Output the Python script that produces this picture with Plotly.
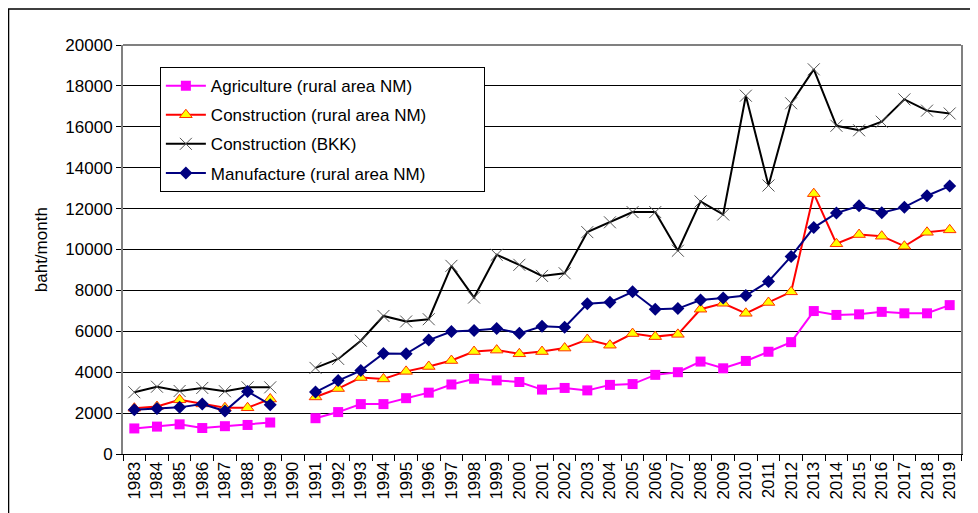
import plotly.graph_objects as go

years = [str(y) for y in range(1983, 2020)]

# 1990 has no survey data -> None leaves a gap
agriculture = [1250, 1340, 1450, 1270, 1360, 1420, 1540, None,
               1750, 2050, 2440, 2440, 2730, 3000, 3400, 3680, 3600, 3520,
               3150, 3230, 3110, 3380, 3420, 3870, 4000, 4520, 4190, 4550,
               5000, 5470, 6990, 6800, 6830, 6950, 6880, 6880, 7280]
construction_nm = [2240, 2320, 2650, 2450, 2260, 2260, 2690, None,
                   2790, 3200, 3740, 3670, 4040, 4280, 4570, 5010, 5080, 4900,
                   5010, 5180, 5600, 5320, 5890, 5740, 5850, 7080, 7370, 6880,
                   7410, 7930, 12730, 10280, 10730, 10650, 10160, 10840, 10960]
construction_bkk = [3020, 3290, 3080, 3230, 3070, 3260, 3260, None,
                    4210, 4650, 5540, 6750, 6480, 6590, 9200, 7650, 9740, 9250,
                    8710, 8840, 10850, 11330, 11830, 11830, 9940, 12350, 11710, 17520,
                    13130, 17150, 18810, 16050, 15830, 16250, 17340, 16790, 16650]
manufacture = [2160, 2230, 2280, 2440, 2100, 3060, 2410, None,
               3030, 3590, 4080, 4920, 4900, 5570, 5990, 6040, 6140, 5900,
               6250, 6200, 7350, 7420, 7930, 7080, 7110, 7530, 7630, 7750,
               8440, 9660, 11070, 11780, 12140, 11800, 12070, 12630, 13100]

series = [
    ("Agriculture (rural area NM)", agriculture, "#ff00ff",
     dict(symbol="square", size=10, color="#ff00ff")),
    ("Construction (rural area NM)", construction_nm, "#ff0000",
     dict(symbol="triangle-up", size=11, color="#ffff00",
          line=dict(color="#ff3300", width=1))),
    ("Construction (BKK)", construction_bkk, "#000000",
     dict(symbol="x-thin", size=12, color="#555555",
          line=dict(color="#555555", width=1))),
    ("Manufacture (rural area NM)", manufacture, "#000080",
     dict(symbol="diamond", size=10, color="#000080")),
]

# legend box in the original is wider than its text; pad with no-break spaces
pad = "\u00a0" * 11

fig = go.Figure()
for i, (name, vals, col, mk) in enumerate(series):
    fig.add_trace(go.Scatter(
        x=years, y=vals, name=name + pad, mode="lines+markers",
        line=dict(color=col, width=2), marker=mk,
        connectgaps=False, legendgroup=f"g{i}",
        hovertemplate=name + ": %{y}<extra></extra>",
    ))

fig.update_layout(
    width=970, height=505,
    margin=dict(l=115, r=17, t=37, b=59),
    paper_bgcolor="white", plot_bgcolor="white",
    font=dict(family="Liberation Sans, Arial, sans-serif", size=17, color="black"),
    showlegend=True,
    legend=dict(
        x=0.044, y=0.946, xanchor="left", yanchor="top",
        bgcolor="white", bordercolor="black", borderwidth=1,
        font=dict(size=17), tracegroupgap=4, itemwidth=40,
    ),
    xaxis=dict(
        type="category", categoryorder="array", categoryarray=years,
        range=[-0.5, len(years) - 0.5],
        tickangle=-90, ticks="outside", ticklen=6, tickson="boundaries",
        tickcolor="black", showline=True, linecolor="black", linewidth=1,
        showgrid=False, automargin=False, tickfont=dict(size=17),
    ),
    yaxis=dict(
        range=[0, 20000], dtick=2000, tickformat="d",
        ticks="outside", ticklen=5, tickcolor="black",
        showline=True, linecolor="#808080", linewidth=2, mirror=True,
        showgrid=True, gridcolor="#000000", gridwidth=1,
        zeroline=False, automargin=False, tickfont=dict(size=17),
    ),
    annotations=[dict(
        text="baht/month", xref="paper", yref="paper",
        x=-0.097, y=0.5, xanchor="center", yanchor="middle",
        textangle=-90, showarrow=False, font=dict(size=17),
    )],
    shapes=[
        dict(type="line", xref="paper", yref="paper", x0=0, x1=1, y0=1, y1=1,
             line=dict(color="#808080", width=2)),
        dict(type="rect", xref="paper", yref="paper",
             x0=-0.1366, x1=1.04, y0=-0.17, y1=1.088,
             line=dict(color="black", width=1.5)),
    ],
)

fig.write_html("out.html")
